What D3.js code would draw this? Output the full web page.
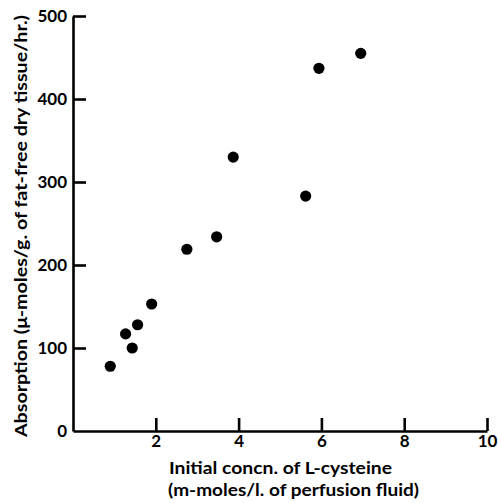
<!DOCTYPE html>
<html>
<head>
<meta charset="utf-8">
<script src="https://cdn.jsdelivr.net/npm/d3@7"></script>
<style>
  body { margin: 0; background: #fff; }
  svg { font-family: Lato, "Open Sans", sans-serif; font-weight: 700; }
</style>
</head>
<body>
<svg id="chart"></svg>
<script>
// readings: initial L-cysteine concn (m-moles/l.) vs absorption
const concn = [0.90, 1.27, 1.43, 1.56, 1.90, 2.75, 3.47, 3.87, 5.62, 5.94, 6.95];
const absorption = [78, 117, 100, 128, 153, 219, 234, 330, 283, 437, 455];
const xTicks = [2, 4, 6, 8, 10];
const yTicks = [0, 100, 200, 300, 400, 500];

const width = 498;
const height = 503;
const margin = { top: 16, right: 11, bottom: 72, left: 73 };
const w = width - margin.left - margin.right;
const h = height - margin.top - margin.bottom;

const svg = d3.select("#chart")
    .attr("width", width)
    .attr("height", height);

const g = svg.append("g")
    .attr("transform", `translate(${[margin.left, margin.top]})`);

const x = d3.scaleLinear().domain([0, 10]).range([0, w]);
const y = d3.scaleLinear().domain([0, 500]).range([h, 0]);

// x axis, ticks pointing up into the plot
const xAxis = g.append("g")
    .attr("transform", `translate(${[0, h]})`)
    .call(d3.axisBottom(x).tickValues(xTicks).tickSize(-13).tickPadding(6).tickSizeOuter(0));

// y axis, ticks pointing right
const yAxis = g.append("g")
    .call(d3.axisLeft(y).tickValues(yTicks).tickSize(-13).tickPadding(7).tickSizeOuter(0));

[xAxis, yAxis].forEach((a) => {
    a.attr("font-size", null).attr("font-family", null);
    a.select(".domain").attr("stroke", "#000").attr("stroke-width", 2.6);
    a.selectAll(".tick line").attr("stroke", "#000").attr("stroke-width", 2.6);
    a.selectAll(".tick text")
        .attr("fill", "#000")
        .style("font-size", "17px");
});
yAxis.selectAll(".tick").filter((d) => d === 0).select("line").remove();
yAxis.selectAll(".tick text").attr("x", -6);
xAxis.selectAll(".tick text").attr("y", 4);

g.selectAll("circle")
    .data(concn)
    .join("circle")
    .attr("cx", (d) => x(d))
    .attr("cy", (d, i) => y(absorption[i]))
    .attr("r", 5.6)
    .attr("fill", "#000");

svg.append("text")
    .attr("x", 169)
    .attr("y", 474)
    .attr("textLength", 223)
    .attr("lengthAdjust", "spacingAndGlyphs")
    .style("font-size", "17px")
    .text("Initial concn. of L-cysteine");

svg.append("text")
    .attr("x", 168)
    .attr("y", 496)
    .attr("textLength", 251)
    .attr("lengthAdjust", "spacingAndGlyphs")
    .style("font-size", "17px")
    .text("(m-moles/l. of perfusion fluid)");

svg.append("text")
    .attr("transform", `translate(${[27, 437]}) rotate(-90)`)
    .attr("textLength", 422)
    .attr("lengthAdjust", "spacingAndGlyphs")
    .style("font-size", "17px")
    .text("Absorption (\u03bc-moles/g. of fat-free dry tissue/hr.)");
</script>
</body>
</html>
